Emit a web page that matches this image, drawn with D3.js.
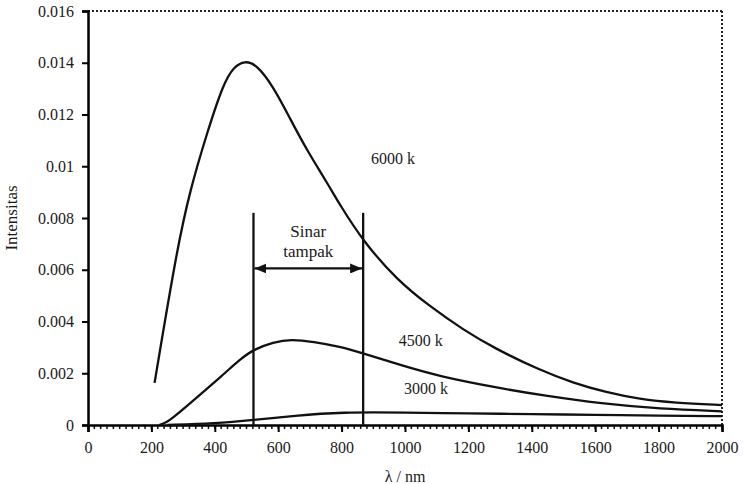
<!DOCTYPE html>
<html>
<head>
<meta charset="utf-8">
<script src="https://cdn.jsdelivr.net/npm/d3@7"></script>
<style>
  body { margin: 0; background: #fff; }
  svg text { font-family: "Liberation Serif", "Times New Roman", serif; fill: #1a1a1a; }
</style>
</head>
<body>
<div id="chart"></div>
<script>
// values (wavelength nm, intensity)
var curve6000 = [[210,0.00163],[280,0.00676],[322,0.00908],[375,0.01127],[427,0.0132],[460,0.01385],[495,0.01408],[532,0.01393],[585,0.01307],[637,0.01185],[690,0.01063],[753,0.00939],[795,0.0085],[868,0.0071],[975,0.0056],[1080,0.00457],[1185,0.00367],[1280,0.00298],[1425,0.00212],[1530,0.00163],[1635,0.00126],[1740,0.001],[1850,0.00086],[2000,0.00077]];
var curve4500 = [[225,0],[245,0.00008],[270,0.0003],[322,0.00084],[427,0.00195],[480,0.00254],[522,0.00292],[585,0.0032],[640,0.00332],[711,0.00322],[795,0.00303],[868,0.00277],[984,0.00232],[1110,0.00187],[1300,0.00142],[1425,0.00116],[1636,0.0008],[1800,0.00063],[2000,0.00053]];
var curve3000 = [[250,0],[400,0.00006],[522,0.00019],[650,0.00036],[800,0.0005],[1000,0.00048],[1200,0.00045],[1400,0.00042],[1600,0.00039],[1800,0.00036],[2000,0.00034]];

var curveLabels = [
  { text: "6000 k", x: 962, y: 0.0101 },
  { text: "4500 k", x: 1050, y: 0.00305 },
  { text: "3000 k", x: 1066, y: 0.0012 }
];

var visibleRange = [522, 868];
var visibleTop = 0.0082;
var arrowLevel = 0.00605;

var xTicks = [0, 200, 400, 600, 800, 1000, 1200, 1400, 1600, 1800, 2000];
var yTicks = [0, 0.002, 0.004, 0.006, 0.008, 0.01, 0.012, 0.014, 0.016];
var yTickLabels = ["0", "0.002", "0.004", "0.006", "0.008", "0.01", "0.012", "0.014", "0.016"];

var width = 746, height = 484;
var margin = { top: 11, right: 24, bottom: 59, left: 88 };

var svg = d3.select("#chart").append("svg")
    .attr("width", width)
    .attr("height", height);

var x = d3.scaleLinear().domain([0, 2000]).range([margin.left, width - margin.right]);
var y = d3.scaleLinear().domain([0, 0.016]).range([height - margin.bottom, margin.top]);

// arrow heads
var defs = svg.append("defs");
defs.append("marker")
    .attr("id", "arr")
    .attr("viewBox", "0 0 12 10")
    .attr("refX", 12).attr("refY", 5)
    .attr("markerWidth", 12).attr("markerHeight", 10)
    .attr("markerUnits", "userSpaceOnUse")
    .attr("orient", "auto-start-reverse")
    .append("path")
    .attr("d", "M0,0 L12,5 L0,10 Z")
    .attr("fill", "#111");

// dotted top and right frame
svg.append("line")
    .attr("x1", x(0)).attr("x2", x(2000))
    .attr("y1", y(0.016)).attr("y2", y(0.016))
    .attr("stroke", "#222").attr("stroke-width", 2).attr("stroke-dasharray", "2,2");
svg.append("line")
    .attr("x1", x(2000)).attr("x2", x(2000))
    .attr("y1", y(0.016)).attr("y2", y(0))
    .attr("stroke", "#222").attr("stroke-width", 2).attr("stroke-dasharray", "2,2");

// y axis
var yAxis = svg.append("g")
    .attr("transform", "translate(" + margin.left + ",0)")
    .call(d3.axisLeft(y).tickValues(yTicks)
        .tickFormat(function(d, i) { return yTickLabels[i]; })
        .tickSize(6).tickPadding(8));
yAxis.select(".domain").attr("stroke-width", 2.5);
yAxis.selectAll(".tick line").attr("stroke-width", 2);
yAxis.selectAll("text").attr("font-size", 16);

// x axis: minor ticks every 20, major every 200
var minor = d3.range(0, 2001, 20);
svg.append("g")
    .attr("transform", "translate(0," + y(0) + ")")
    .selectAll("line")
    .data(minor)
    .enter().append("line")
    .attr("x1", function(d) { return x(d); })
    .attr("x2", function(d) { return x(d); })
    .attr("y1", 0).attr("y2", 4)
    .attr("stroke", "#111").attr("stroke-width", 1.5);

var xAxis = svg.append("g")
    .attr("transform", "translate(0," + y(0) + ")")
    .call(d3.axisBottom(x).tickValues(xTicks).tickFormat(d3.format("d"))
        .tickSize(7).tickPadding(10));
xAxis.select(".domain").attr("stroke-width", 2.5);
xAxis.selectAll(".tick line").attr("stroke-width", 2);
xAxis.selectAll("text").attr("font-size", 16);

// axis titles
svg.append("text")
    .attr("x", x(1000)).attr("y", 482)
    .attr("text-anchor", "middle")
    .attr("font-size", 16)
    .text("λ / nm");

svg.append("text")
    .attr("transform", "translate(17," + (y(0.008)) + ") rotate(-90)")
    .attr("text-anchor", "middle")
    .attr("font-size", 17)
    .text("Intensitas");

// curves
var line = d3.line()
    .x(function(d) { return x(d[0]); })
    .y(function(d) { return y(d[1]); })
    .curve(d3.curveBasis);

[curve6000, curve4500, curve3000].forEach(function(c) {
    svg.append("path")
        .datum(c)
        .attr("d", line)
        .attr("fill", "none")
        .attr("stroke", "#111")
        .attr("stroke-width", 2.3);
});

svg.selectAll(".clabel")
    .data(curveLabels)
    .enter().append("text")
    .attr("class", "clabel")
    .attr("x", function(d) { return x(d.x); })
    .attr("y", function(d) { return y(d.y); })
    .attr("text-anchor", "middle")
    .attr("font-size", 16)
    .text(function(d) { return d.text; });

// visible range markers
visibleRange.forEach(function(v) {
    svg.append("line")
        .attr("x1", x(v)).attr("x2", x(v))
        .attr("y1", y(visibleTop)).attr("y2", y(0))
        .attr("stroke", "#111").attr("stroke-width", 2.3);
});

svg.append("line")
    .attr("x1", x(visibleRange[0]) + 1).attr("x2", x(visibleRange[1]) - 1)
    .attr("y1", y(arrowLevel)).attr("y2", y(arrowLevel))
    .attr("stroke", "#111").attr("stroke-width", 2.3)
    .attr("marker-start", "url(#arr)")
    .attr("marker-end", "url(#arr)");

var midX = (x(visibleRange[0]) + x(visibleRange[1])) / 2;
svg.append("text")
    .attr("x", midX).attr("y", 237)
    .attr("text-anchor", "middle").attr("font-size", 17)
    .text("Sinar");
svg.append("text")
    .attr("x", midX).attr("y", 257)
    .attr("text-anchor", "middle").attr("font-size", 17)
    .text("tampak");
</script>
</body>
</html>
